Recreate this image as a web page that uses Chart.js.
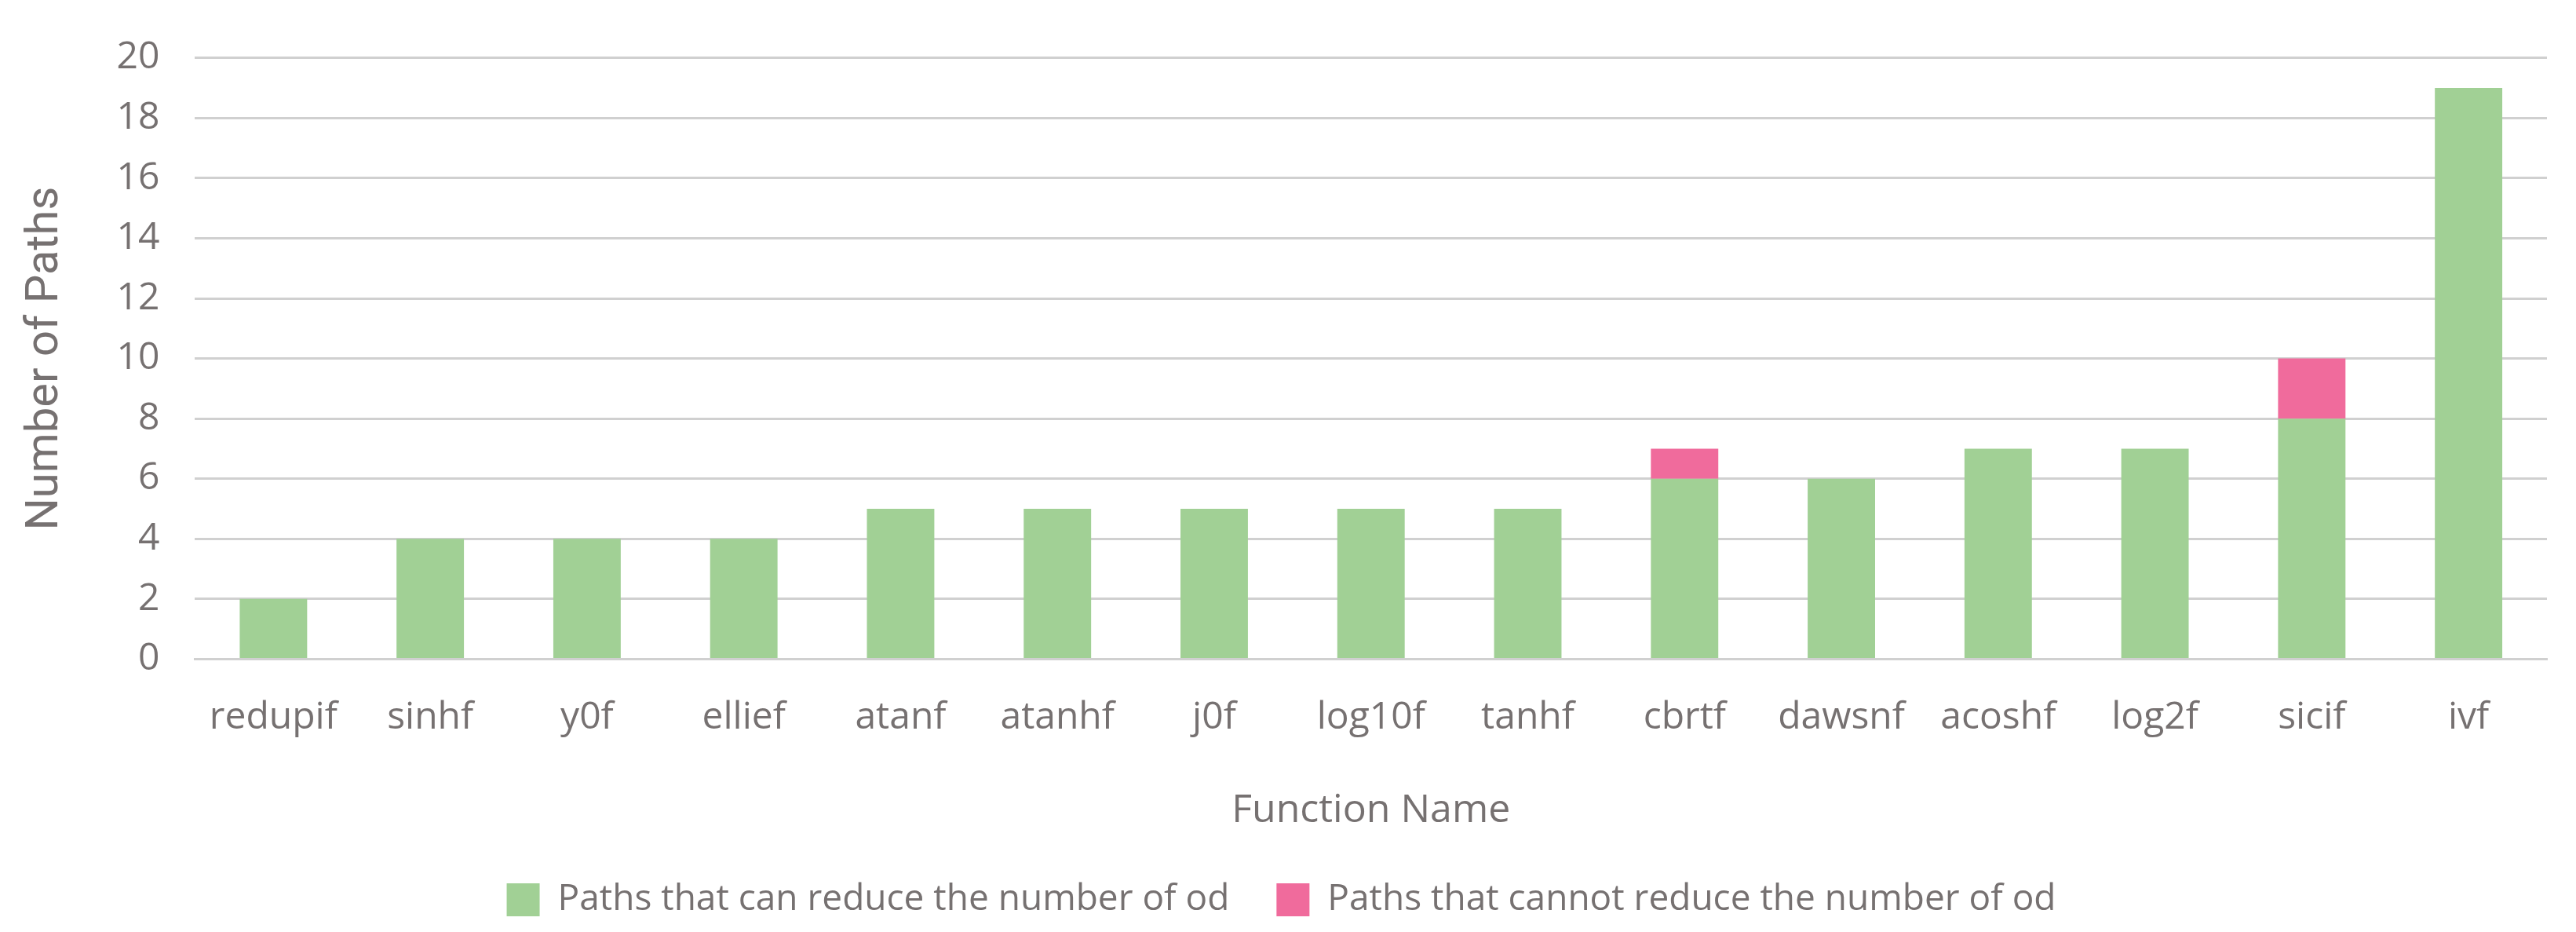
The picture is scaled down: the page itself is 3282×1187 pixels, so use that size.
<!DOCTYPE html>
<html><head><meta charset="utf-8">
<script src="https://cdn.jsdelivr.net/npm/chart.js@4"></script>
<style>html,body{margin:0;padding:0;background:#fff}#w{width:3282px;height:1187px}</style>
</head><body><div id="w"><canvas id="c"></canvas></div>
<script>
const categories = ["redupif","sinhf","y0f","ellief","atanf","atanhf","j0f","log10f","tanhf","cbrtf","dawsnf","acoshf","log2f","sicif","ivf"];
const reducible = [2,4,4,4,5,5,5,5,5,6,6,7,7,8,19];
const nonReducible = [0,0,0,0,0,0,0,0,0,1,0,0,0,2,0];
const yTicks = [0,2,4,6,8,10,12,14,16,18,20];
const gray = '#767171';
new Chart(document.getElementById('c'), {
  type: 'bar',
  data: { labels: categories, datasets: [
    { label: 'Paths that can reduce the number of od', data: reducible, backgroundColor: '#a1d095', barPercentage: 0.43, categoryPercentage: 1 },
    { label: 'Paths that cannot reduce the number of od', data: nonReducible, backgroundColor: '#f06b9c', barPercentage: 0.43, categoryPercentage: 1 }
  ]},
  options: {
    responsive: true, maintainAspectRatio: false, animation: false,
    layout: { padding: { left: 20, right: 37, top: 28, bottom: 8 } },
    plugins: {
      legend: { position: 'bottom', labels: { color: gray, font: { family: 'Open Sans', size: 46 }, boxWidth: 42, boxHeight: 42, padding: 60 } },
      tooltip: { enabled: false }
    },
    scales: {
      x: { stacked: true, grid: { display: false }, border: { color: '#d0d0d0', width: 3 },
        ticks: { color: gray, font: { family: 'Open Sans', size: 48 }, padding: 38 },
        title: { display: true, text: 'Function Name', color: gray, font: { family: 'Open Sans', size: 50 }, padding: { top: 22, bottom: 0 } } },
      y: { stacked: true, min: 0, max: 20, afterBuildTicks: a => { a.ticks = yTicks.map(v => ({ value: v })); },
        grid: { color: '#d0d0d0', lineWidth: 3, drawTicks: false }, border: { display: false },
        ticks: { color: gray, font: { family: 'Open Sans', size: 48 }, padding: 45 },
        title: { display: true, text: 'Number of Paths', color: gray, font: { family: 'Liberation Sans Narrow, Roboto', size: 58 }, padding: { bottom: 10 } } }
    }
  }
});
</script></body></html>
